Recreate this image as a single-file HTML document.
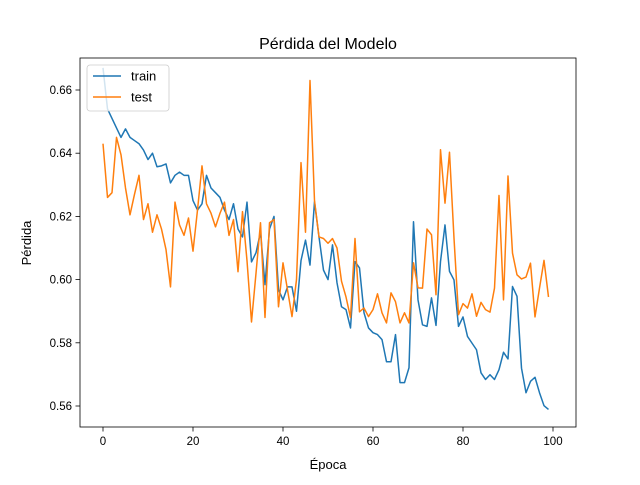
<!DOCTYPE html>
<html><head><meta charset="utf-8"><style>
body{margin:0;background:#fff;font-family:"Liberation Sans","DejaVu Sans",sans-serif}
</style></head><body>
<svg id="chart" width="640" height="480" xmlns="http://www.w3.org/2000/svg"></svg>
<script>
const epochs = Array.from({length:100},(_,i)=>i);
const trainLoss = [0.667,0.654,0.651,0.648,0.645,0.6477,0.645,0.644,0.643,0.641,0.638,0.640,0.6357,0.636,0.6366,0.6306,0.633,0.634,0.633,0.633,0.625,0.622,0.624,0.633,0.629,0.6275,0.626,0.622,0.619,0.624,0.616,0.6135,0.6245,0.6056,0.6085,0.615,0.5984,0.616,0.620,0.5968,0.5936,0.5977,0.5977,0.590,0.606,0.6125,0.6046,0.6246,0.6135,0.603,0.600,0.611,0.599,0.5914,0.5905,0.5847,0.6057,0.6037,0.5895,0.5847,0.5832,0.5826,0.581,0.574,0.574,0.5826,0.5674,0.5674,0.5721,0.6183,0.5936,0.5857,0.5852,0.5942,0.5855,0.6057,0.6173,0.6026,0.5999,0.5852,0.5882,0.582,0.5799,0.5778,0.5705,0.5684,0.5699,0.5684,0.5715,0.577,0.5749,0.5978,0.5947,0.572,0.5642,0.5678,0.5691,0.5642,0.5601,0.5589];
const testLoss = [0.643,0.626,0.6275,0.645,0.6395,0.629,0.6205,0.627,0.633,0.619,0.624,0.615,0.6205,0.616,0.6095,0.5977,0.6245,0.6173,0.614,0.6195,0.609,0.622,0.636,0.624,0.621,0.6167,0.621,0.6245,0.614,0.619,0.6025,0.6215,0.606,0.5866,0.602,0.618,0.588,0.618,0.619,0.5914,0.6053,0.5968,0.5883,0.600,0.637,0.615,0.663,0.625,0.6135,0.613,0.6115,0.613,0.610,0.5995,0.5945,0.588,0.613,0.5898,0.591,0.5883,0.5905,0.5955,0.5895,0.5863,0.5958,0.593,0.5863,0.5895,0.5863,0.6053,0.5974,0.5973,0.616,0.6142,0.5952,0.6411,0.6242,0.6403,0.6131,0.5889,0.5924,0.591,0.5955,0.5884,0.5928,0.5905,0.5897,0.5973,0.6266,0.5936,0.6328,0.6084,0.6015,0.6002,0.6008,0.6052,0.5882,0.5973,0.6061,0.5945];
const xTicks = [0,20,40,60,80,100];
const yTicks = [0.56,0.58,0.60,0.62,0.64,0.66];
const yTickLabels = ["0.56","0.58","0.60","0.62","0.64","0.66"];

const svg = document.getElementById('chart');
const NS = 'http://www.w3.org/2000/svg';
const L=80,R=576,T=58,B=427;
const xs = v => 103 + v*4.5;
const ys = v => 90 + (0.66 - v)*3160;
function mk(tag, attrs, parent){const e=document.createElementNS(NS,tag);for(const k in attrs)e.setAttribute(k,attrs[k]);(parent||svg).appendChild(e);return e;}

const title = mk('text',{x:328,y:49,'text-anchor':'middle','font-size':16,fill:'#000'});
title.textContent='Pérdida del Modelo';



xTicks.forEach(t=>{
  const g = mk('g',{});
  
  
  mk('line',{x1:xs(t),x2:xs(t),y1:B,y2:B+4.5,stroke:'#000','stroke-width':0.8},g);
  const tx = mk('text',{x:xs(t),y:B+18,'text-anchor':'middle','font-size':11.5,fill:'#000'},g);
  tx.textContent = String(t);
});
yTicks.forEach((t,i)=>{
  const g = mk('g',{});
  
  
  mk('line',{x1:L-4.5,x2:L,y1:ys(t),y2:ys(t),stroke:'#000','stroke-width':0.8},g);
  const tx = mk('text',{x:L-8,y:ys(t)+4,'text-anchor':'end','font-size':11.5,fill:'#000'},g);
  tx.textContent = yTickLabels[i];
});

function series(vals,color,name){
  const p = mk('polyline',{points:vals.map((v,i)=>xs(epochs[i])+','+ys(v)).join(' '),fill:'none',stroke:color,'stroke-width':1.5,'stroke-linejoin':'round'});
  
  
}
series(trainLoss,'#1f77b4','train-line');
series(testLoss,'#ff7f0e','test-line');

const frame = mk('rect',{x:L,y:T,width:R-L,height:B-T,fill:'none',stroke:'#000','stroke-width':0.8});



const xl = mk('text',{x:328,y:469,'text-anchor':'middle','font-size':13,fill:'#000'});
xl.textContent='Época';


const yl = mk('text',{x:0,y:0,'text-anchor':'middle','font-size':13,fill:'#000',transform:'translate(31,243) rotate(-90)'});
yl.textContent='Pérdida';



const lg = mk('g',{});


mk('rect',{x:87,y:65,width:82,height:46,rx:3,fill:'#fff','fill-opacity':0.8,stroke:'#ccc','stroke-width':0.8},lg);
[['train','#1f77b4',76],['test','#ff7f0e',97]].forEach(([n,c,y])=>{
  const e = mk('g',{},lg);
  
  
  mk('line',{x1:93,x2:121,y1:y,y2:y,stroke:c,'stroke-width':1.5},e);
  const t = mk('text',{x:131,y:y+4.5,'font-size':13,fill:'#000'},e);
  t.textContent=n;
});
</script>
</body></html>
